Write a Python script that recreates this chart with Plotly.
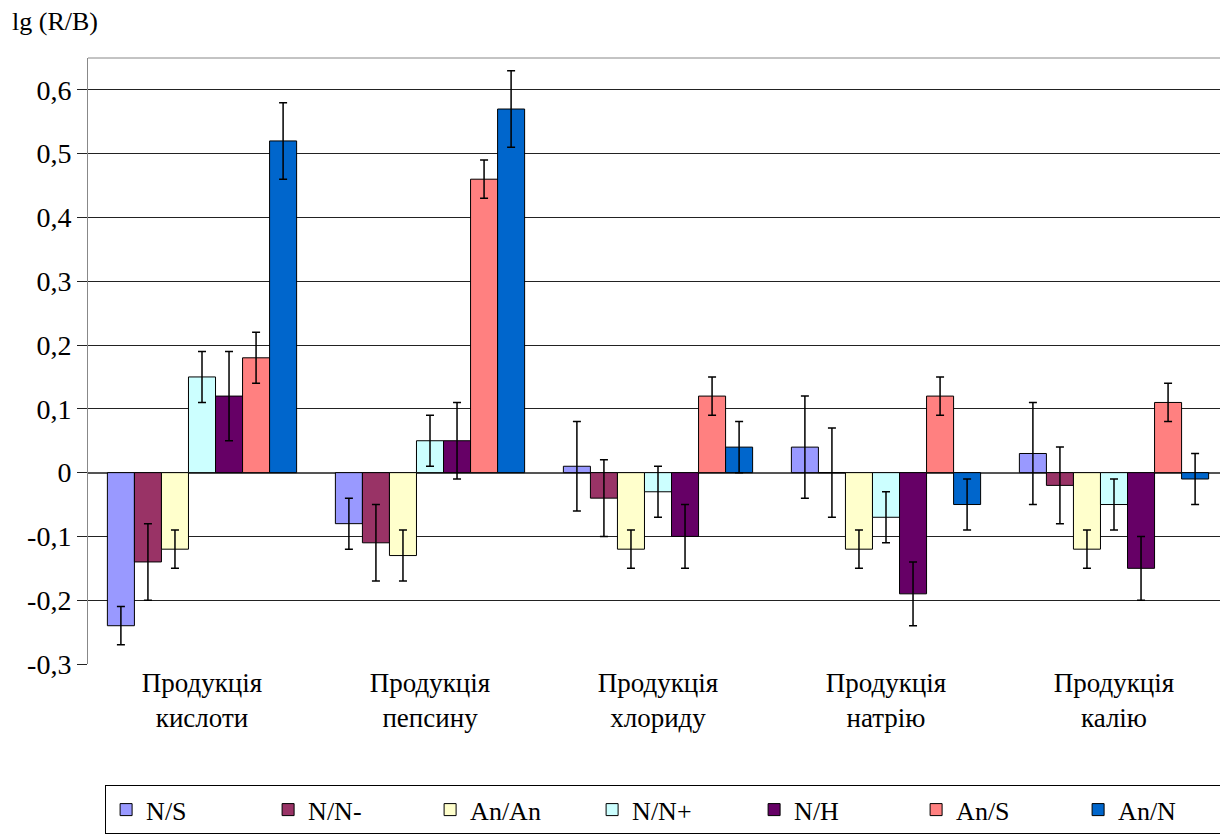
import plotly.graph_objects as go

categories = ["Продукція<br>кислоти", "Продукція<br>пепсину", "Продукція<br>хлориду",
              "Продукція<br>натрію", "Продукція<br>калію"]
series_names = ["N/S", "N/N-", "An/An", "N/N+", "N/H", "An/S", "An/N"]
colors = ["#9999FF", "#993366", "#FFFFCC", "#CCFFFF", "#660066", "#FF8080", "#0066CC"]

ns_vals = [-0.24, -0.08, 0.01, 0.04, 0.03]
ns_err = [0.03, 0.04, 0.07, 0.08, 0.08]
nnm_vals = [-0.14, -0.11, -0.04, 0.0, -0.02]
nnm_err = [0.06, 0.06, 0.06, 0.07, 0.06]
anan_vals = [-0.12, -0.13, -0.12, -0.12, -0.12]
anan_err = [0.03, 0.04, 0.03, 0.03, 0.03]
nnp_vals = [0.15, 0.05, -0.03, -0.07, -0.05]
nnp_err = [0.04, 0.04, 0.04, 0.04, 0.04]
nh_vals = [0.12, 0.05, -0.10, -0.19, -0.15]
nh_err = [0.07, 0.06, 0.05, 0.05, 0.05]
ans_vals = [0.18, 0.46, 0.12, 0.12, 0.11]
ans_err = [0.04, 0.03, 0.03, 0.03, 0.03]
ann_vals = [0.52, 0.57, 0.04, -0.05, -0.01]
ann_err = [0.06, 0.06, 0.04, 0.04, 0.04]

values = [ns_vals, nnm_vals, anan_vals, nnp_vals, nh_vals, ans_vals, ann_vals]
errors = [ns_err, nnm_err, anan_err, nnp_err, nh_err, ans_err, ann_err]

tick_vals = [-0.3, -0.2, -0.1, 0, 0.1, 0.2, 0.3, 0.4, 0.5, 0.6]
tick_text = ["-0,3", "-0,2", "-0,1", "0", "0,1", "0,2", "0,3", "0,4", "0,5", "0,6"]

FONT = "'Liberation Serif', 'DejaVu Serif', serif"

W, H = 1220, 831  # page body has an 8px margin
PLOT_W = W - 80

fig = go.Figure()
for name, col, v, e in zip(series_names, colors, values, errors):
    fig.add_trace(go.Bar(
        x=categories, y=v, name=name,
        marker=dict(color=col, line=dict(color="black", width=1)),
        error_y=dict(type="data", array=e, visible=True, color="black",
                     thickness=1.5, width=4),
    ))

fig.update_layout(
    width=W, height=H,
    margin=dict(l=80, r=0, t=50, b=175, autoexpand=False),
    plot_bgcolor="white", paper_bgcolor="white",
    barmode="group", bargap=0.17, bargroupgap=0,
    font=dict(family=FONT, color="black", size=27),
    xaxis=dict(showgrid=False, tickfont=dict(size=27, family=FONT),
               showline=False, ticks=""),
    yaxis=dict(range=[-0.3, 0.65], tickvals=tick_vals, ticktext=tick_text,
               showgrid=True, gridcolor="#222222", gridwidth=1,
               zeroline=True, zerolinecolor="#555555", zerolinewidth=1.5,
               showline=True, linecolor="#888888", linewidth=1,
               ticks="outside", ticklen=10, tickcolor="#222222",
               tickfont=dict(size=28, family=FONT)),
    legend=dict(orientation="h", x=0.015, y=-0.2, xanchor="left", yanchor="top",
                bordercolor="black", borderwidth=1, bgcolor="white",
                font=dict(size=26, family=FONT),
                entrywidth=117, entrywidthmode="pixels", itemwidth=30),
    annotations=[dict(text="lg (R/B)", xref="paper", yref="paper",
                      x=-78/PLOT_W, y=1.0 + 36/606, xanchor="left", yanchor="middle",
                      showarrow=False, font=dict(size=26, family=FONT))],
    shapes=[dict(type="line", xref="paper", yref="paper", x0=0, x1=1, y0=1, y1=1,
                 line=dict(color="#888888", width=1))],
)

fig.write_html("out.html")
